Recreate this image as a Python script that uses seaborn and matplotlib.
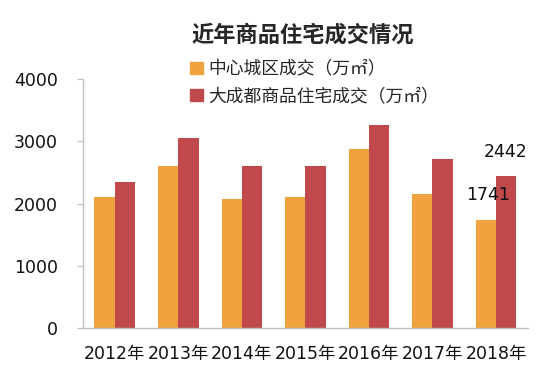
import matplotlib
matplotlib.use("Agg")
from matplotlib import pyplot as plt
from matplotlib.patches import Patch
import pandas as pd
import seaborn as sns

# chart data
years = ["2012年", "2013年", "2014年", "2015年", "2016年", "2017年", "2018年"]
center_city = [2100, 2600, 2070, 2110, 2870, 2150, 1741]
greater_chengdu = [2350, 3050, 2610, 2610, 3260, 2720, 2442]
series_names = ["中心城区成交（万㎡）", "大成都商品住宅成交（万㎡）"]
colors = ["#EFA23D", "#C0494B"]

df = pd.DataFrame({
    "year": years * 2,
    "value": center_city + greater_chengdu,
    "series": [series_names[0]] * len(years) + [series_names[1]] * len(years),
})

sns.set_style("white")
plt.rcParams["font.family"] = ["Noto Sans CJK SC", "DejaVu Sans"]
num_font = ["DejaVu Sans", "Noto Sans CJK SC"]

fig = plt.figure(figsize=(5.55, 3.88), dpi=100)
ax = fig.add_axes([0.1495, 0.1546, 0.8015, 0.6414])

sns.barplot(data=df, x="year", y="value", hue="series", palette=colors,
            width=0.64, dodge=True, saturation=1, linewidth=0, ax=ax, legend=False)

ax.set_ylim(0, 4000)
ax.set_yticks([0, 1000, 2000, 3000, 4000])
ax.set_xlabel("")
ax.set_ylabel("")

for side in ["top", "right"]:
    ax.spines[side].set_visible(False)
for side in ["left", "bottom"]:
    ax.spines[side].set_color("#BFBFBF")
    ax.spines[side].set_linewidth(1)

ax.tick_params(axis="y", length=4, color="#BFBFBF", pad=14, left=True)
ax.tick_params(axis="x", length=0, pad=12)
for lab in ax.get_xticklabels() + ax.get_yticklabels():
    lab.set_fontfamily(num_font)
    lab.set_fontsize(12.5)
    lab.set_color("#111111")

# value labels for 2018
ax.text(6.15, greater_chengdu[-1] + 385, str(greater_chengdu[-1]), fontsize=12.5,
        family=num_font, ha="center", va="center", color="#111111")
ax.text(5.87, center_city[-1] + 400, str(center_city[-1]), fontsize=12.5,
        family=num_font, ha="center", va="center", color="#111111")

fig.text(0.545, 0.91, "近年商品住宅成交情况", fontsize=16, fontweight="bold",
         ha="center", va="center")

handles = [Patch(color=c, label=n) for c, n in zip(colors, series_names)]
fig.legend(handles=handles, loc="upper left", bbox_to_anchor=(0.343, 0.845),
           frameon=False, fontsize=12.8, handlelength=0.7, handleheight=0.7,
           handletextpad=0.3, labelspacing=0.5, borderpad=0, borderaxespad=0)

fig.savefig("out.png", dpi=100)
